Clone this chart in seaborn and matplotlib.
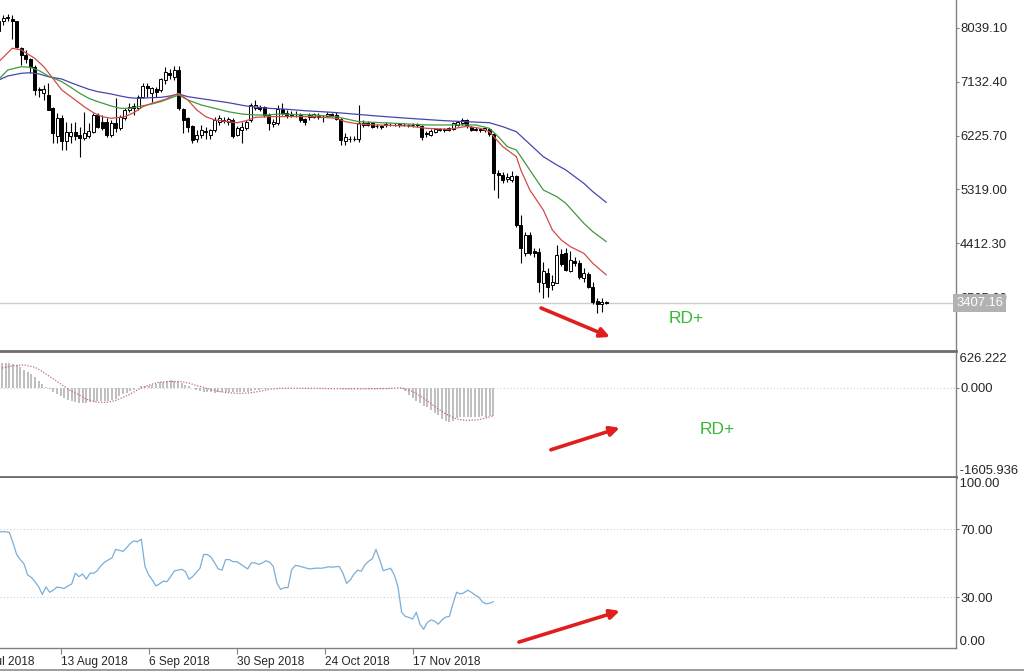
import numpy as np
import pandas as pd
import matplotlib
matplotlib.use("Agg")
import matplotlib.pyplot as plt
from matplotlib.lines import Line2D
import seaborn as sns

# ─── Data (daily bars from 27 Jul 2018) ───────────────────────────────────────
start_date = "2018-07-27"

opens = [7980, 8157, 8200, 8180, 8150, 7690, 7580, 7510, 7380, 6995,
         6940, 6905, 6680, 6210, 6515, 6125, 6210, 6290, 6235, 6180,
         6225, 6290, 6570, 6460, 6455, 6235, 6440, 6345, 6515, 6655,
         6720, 6685, 6880, 7060, 6935, 7005, 6990, 7160, 7270, 7215,
         7330, 6665, 6515, 6385, 6165, 6235, 6300, 6230, 6320, 6460,
         6470, 6460, 6490, 6235, 6320, 6360, 6490, 6690, 6700, 6700,
         6570, 6420, 6430, 6665, 6610, 6575, 6585, 6570, 6500, 6530,
         6545, 6560, 6545, 6550, 6590, 6570, 6500, 6125, 6170, 6160,
         6165, 6405, 6440, 6430, 6380, 6390, 6395, 6410, 6405, 6395,
         6410, 6400, 6395, 6415, 6390, 6250, 6240, 6290, 6325, 6335,
         6345, 6330, 6405, 6430, 6485, 6375, 6325, 6330, 6310, 6340,
         6250, 5600, 5565, 5500, 5480, 5550, 4720, 4245, 4550, 4275,
         4270, 3740, 3910, 3710, 3750, 4230, 4255, 3950, 4120, 4085,
         3830, 3895, 3685, 3445, 3395, 3420]
highs = [8200, 8253, 8270, 8260, 8160, 7720, 7660, 7525, 7410, 7050,
         7075, 7110, 6710, 6600, 6570, 6460, 6430, 6460, 6375, 6625,
         6430, 6600, 6600, 6570, 6515, 6485, 6850, 6570, 6685, 6770,
         6770, 6905, 7105, 7105, 7045, 7050, 7200, 7370, 7350, 7390,
         7390, 6685, 6545, 6405, 6320, 6405, 6375, 6340, 6545, 6570,
         6540, 6545, 6515, 6390, 6460, 6490, 6770, 6825, 6740, 6715,
         6600, 6510, 6740, 6770, 6655, 6630, 6640, 6600, 6520, 6610,
         6610, 6600, 6570, 6620, 6610, 6620, 6515, 6260, 6210, 6210,
         6740, 6490, 6470, 6450, 6420, 6410, 6450, 6440, 6430, 6440,
         6430, 6420, 6430, 6440, 6410, 6300, 6330, 6360, 6360, 6360,
         6365, 6450, 6470, 6520, 6500, 6390, 6365, 6360, 6370, 6360,
         6270, 5650, 5620, 5600, 5630, 5560, 4890, 4600, 4600, 4330,
         4330, 4100, 3990, 3880, 4385, 4320, 4340, 4280, 4190, 4130,
         3990, 3930, 3770, 3490, 3490, 3450]
lows = [7950, 8085, 8160, 7850, 7690, 7410, 7440, 7270, 6910, 6880,
        6825, 6650, 6095, 6095, 5985, 5985, 6095, 6150, 5870, 6150,
        6180, 6265, 6345, 6318, 6205, 6205, 6290, 6320, 6490, 6625,
        6570, 6655, 6850, 6880, 6795, 6880, 6960, 7090, 7170, 7160,
        6655, 6265, 6290, 6095, 6120, 6180, 6170, 6160, 6290, 6400,
        6430, 6400, 6180, 6220, 6095, 6320, 6460, 6655, 6640, 6545,
        6320, 6375, 6400, 6570, 6515, 6545, 6540, 6460, 6400, 6480,
        6520, 6510, 6460, 6530, 6530, 6480, 6066, 6066, 6120, 6130,
        6122, 6370, 6380, 6350, 6350, 6340, 6370, 6380, 6385, 6370,
        6380, 6370, 6375, 6370, 6150, 6200, 6220, 6270, 6300, 6290,
        6300, 6310, 6390, 6410, 6360, 6300, 6300, 6290, 6290, 6220,
        5310, 5170, 5430, 5440, 5440, 4690, 4080, 4200, 4220, 4190,
        3600, 3490, 3515, 3620, 3740, 4030, 3940, 3930, 4030, 3820,
        3770, 3660, 3390, 3235, 3260, 3390]
closes = [8150, 8197, 8215, 8150, 7720, 7580, 7510, 7385, 6990, 7005,
          7005, 6655, 6265, 6515, 6125, 6290, 6290, 6210, 6180, 6265,
          6300, 6570, 6375, 6345, 6235, 6440, 6345, 6545, 6655, 6710,
          6685, 6880, 7060, 7020, 7020, 6965, 7170, 7300, 7245, 7330,
          6690, 6490, 6375, 6150, 6235, 6315, 6280, 6310, 6490, 6515,
          6485, 6510, 6215, 6345, 6375, 6460, 6740, 6740, 6670, 6570,
          6430, 6460, 6665, 6600, 6575, 6585, 6580, 6490, 6460, 6575,
          6585, 6545, 6530, 6590, 6555, 6500, 6150, 6195, 6160, 6165,
          6430, 6440, 6405, 6375, 6390, 6375, 6420, 6405, 6410, 6415,
          6400, 6395, 6405, 6395, 6205, 6265, 6305, 6330, 6335, 6320,
          6320, 6430, 6455, 6485, 6385, 6320, 6330, 6320, 6345, 6255,
          5590, 5560, 5480, 5520, 5550, 4720, 4330, 4550, 4245, 4250,
          3770, 3940, 3685, 3770, 4215, 4065, 3965, 4130, 4075, 3850,
          3910, 3685, 3430, 3395, 3420, 3407.16]

# moving averages, sampled at bar indices
red_idx = [0, 3, 5, 8, 10, 12, 14, 17, 19, 21, 23, 25, 28, 30, 32, 34, 37, 39,
           40, 42, 44, 46, 48, 51, 53, 55, 57, 60, 65, 70, 75, 77, 80, 84, 91,
           95, 100, 104, 107, 109, 110, 112, 115, 116, 118, 121, 123, 125, 127,
           130, 132, 135]
red_val = [7467, 7693, 7664, 7524, 7383, 7188, 6991, 6823, 6710, 6610, 6542,
           6515, 6542, 6610, 6710, 6767, 6834, 6907, 6935, 6823, 6655, 6542,
           6487, 6458, 6441, 6475, 6532, 6542, 6545, 6542, 6515, 6458, 6419,
           6403, 6386, 6347, 6330, 6380, 6347, 6290, 6206, 6038, 5870, 5646,
           5309, 4973, 4637, 4468, 4356, 4244, 4076, 3880]
green_idx = [0, 2, 5, 7, 9, 11, 14, 16, 18, 20, 22, 25, 27, 29, 31, 34, 36, 38,
             40, 42, 45, 48, 51, 54, 57, 60, 62, 70, 75, 80, 88, 95, 102, 106,
             109, 111, 113, 115, 117, 119, 121, 124, 126, 128, 130, 132, 135]
green_val = [7171, 7328, 7383, 7373, 7316, 7227, 7131, 7036, 6935, 6851, 6795,
             6722, 6683, 6683, 6710, 6756, 6795, 6851, 6907, 6823, 6739, 6683,
             6626, 6587, 6571, 6571, 6587, 6571, 6542, 6458, 6431, 6403, 6403,
             6403, 6347, 6206, 6038, 5982, 5758, 5533, 5309, 5197, 5085, 4917,
             4749, 4608, 4440]
blue_idx = [0, 2, 5, 7, 9, 11, 14, 16, 18, 20, 22, 25, 27, 29, 31, 34, 36, 38,
            40, 42, 46, 51, 55, 60, 64, 68, 74, 77, 84, 91, 99, 104, 109, 112,
            115, 117, 119, 121, 124, 126, 128, 130, 132, 135]
blue_val = [7159, 7227, 7272, 7282, 7260, 7215, 7176, 7114, 7058, 7003, 6963,
            6924, 6890, 6862, 6851, 6862, 6867, 6890, 6924, 6879, 6834, 6778,
            6722, 6683, 6667, 6643, 6616, 6599, 6554, 6515, 6475, 6458, 6441,
            6374, 6290, 6150, 6010, 5870, 5730, 5646, 5533, 5421, 5281, 5100]

# MACD main (grey histogram), one value per bar
macd_main = [445, 445, 450, 440, 430, 414, 366, 324, 290, 240, 186, 126, 66, 20,
             -20, -70, -114, -156, -190, -220, -240, -258, -272, -276, -276,
             -262, -250, -246, -246, -246, -240, -220, -198, -156, -114, -90,
             -60, -36, 0, 24, 24, 36, 48, 60, 96, 110, 126, 144, 130, 114, 80,
             50, 24, -10, -40, -60, -75, -80, -82, -85, -84, -80, -82, -80, -78,
             -80, -76, -72, -70, -60, -40, -36, -30, -20, -12, -8, -5,
             -5, -3, -2, 0, -2, -4, -6, -5, -4, -3, -2, -3, -5, -6, -4, -5, -6,
             -25, -28, -30, -28, -25, -26, -28, -30, -27, -25, -22, -20,
             -15, -12, -10, -8, -20, -66, -126, -186, -230, -276, -320, -348,
             -408, -450, -486, -564, -606, -620, -590, -546,
             -530, -525, -520, -520, -525, -520, -515, -520, -515, -516]
# MACD signal (dotted), sampled at bar indices
signal_idx = [1, 4, 7, 10, 12, 14, 16, 18, 20, 22, 24, 26, 28, 30, 32, 34, 36,
              38, 40, 42, 44, 47, 50, 52, 54, 56, 58, 60, 62, 64, 66, 68, 70,
              72, 74, 77, 86, 96, 106, 110, 113, 116, 119, 122, 125, 128, 131,
              135]
signal_val = [354, 396, 414, 370, 294, 204, 114, 24, -66, -126, -204, -246,
              -264, -258, -228, -174, -114, -36, 24, 66, 102, 114, 110, 84, 42,
              6, -30, -66, -84, -96, -102, -96, -78, -54, -24, -8, -10, -20,
              -15, 0, -66, -186, -336, -468, -564, -588, -576, -504]

# RSI, one value per bar
rsi = [68.4, 68.4, 68.4, 68.0, 62.0, 55.0, 52.0, 49.5, 43.0, 41.5, 39.0, 36.0,
       31.5, 36.0, 32.8, 34.0, 35.8, 35.5, 35.0, 36.5, 37.6, 44.0, 42.0, 43.5,
       40.5, 44.0, 44.0, 45.5, 48.5, 50.5, 51.8, 53.0, 58.0, 57.5, 56.8, 59.0,
       61.5, 63.0, 62.5, 64.0, 48.0, 43.0, 40.0, 36.5, 37.8, 39.4, 39.0, 42.0,
       45.3, 45.8, 46.3, 45.0, 40.5, 42.0, 44.5, 46.9, 55.0, 55.0, 53.5, 50.0,
       46.5, 45.8, 52.0, 52.0, 50.8, 50.8, 49.5, 48.0, 46.5, 50.0, 50.1, 49.2,
       50.0, 51.3, 50.5, 48.0, 38.0, 34.5, 35.5, 35.5, 46.0, 48.6, 48.2, 47.6,
       47.0, 46.5, 46.8, 47.0, 46.9, 47.2, 47.8, 47.5, 47.8, 48.0, 44.0, 38.0,
       40.0, 43.5, 45.8, 45.2, 49.0, 51.0, 52.5, 58.0, 52.0, 45.5, 46.2, 46.9,
       43.0, 36.0, 21.0, 18.6, 18.0, 17.0, 21.0, 14.0, 11.0, 15.0, 16.5, 15.8,
       14.0, 16.5, 18.2, 18.5, 26.0, 32.8, 31.8, 32.5, 34.0, 32.8, 31.2, 30.0,
       27.2, 26.0, 26.3, 27.2]

price_ticks = [8039.10, 7132.40, 6225.70, 5319.00, 4412.30, 3505.60]
last_price = 3407.16
macd_range = (-1605.936, 626.222)
rsi_levels = [70, 30]
date_ticks = ["2018-07-20", "2018-08-13", "2018-09-06", "2018-09-30",
              "2018-10-24", "2018-11-17"]

# ─── Style ────────────────────────────────────────────────────────────────────
sns.set_style("white")
plt.rcParams["font.family"] = ["Liberation Sans", "DejaVu Sans"]

AXIS_GREY = "#808080"
LABEL_FS = 9.4
DATE_FS = 8.6
ARROW = dict(arrowstyle="-|>", color="#e01e1e", lw=2.6, mutation_scale=14,
             shrinkA=0, shrinkB=0)

W, H = 1024, 672
fig = plt.figure(figsize=(W / 100, H / 100), dpi=100)


def panel(top, bottom, right=956):
    return [0, 1 - bottom / H, right / W, (bottom - top) / H]


ax_p = fig.add_axes(panel(0, 351))
ax_m = fig.add_axes(panel(353, 477))
ax_r = fig.add_axes(panel(478, 648))

for ax in (ax_p, ax_m, ax_r):
    sns.despine(ax=ax, left=True, top=True, right=False, bottom=False)
    ax.yaxis.tick_right()
    ax.tick_params(axis="y", direction="out", length=2, width=0.8,
                   color=AXIS_GREY, pad=1, labelsize=LABEL_FS)
    ax.spines["right"].set_color(AXIS_GREY)
    ax.spines["right"].set_linewidth(1)
for ax in (ax_p, ax_m):
    ax.set_xticks([])
    ax.spines["bottom"].set_color("#6e6e6e")
    ax.spines["bottom"].set_linewidth(2)
ax_r.spines["bottom"].set_color(AXIS_GREY)
ax_r.spines["bottom"].set_linewidth(1)

# ─── Price panel: candles + moving averages ───────────────────────────────────
bars = pd.DataFrame({"open": opens, "high": highs, "low": lows, "close": closes})
bars["x"] = np.arange(len(bars))
up = bars["close"] >= bars["open"]

ax_p.vlines(bars["x"], bars["low"], bars["high"], color="black", lw=0.8, zorder=2)
ax_p.bar(bars["x"][up], (bars["close"] - bars["open"])[up], bottom=bars["open"][up],
         width=0.62, color="white", edgecolor="black", linewidth=0.7, zorder=3)
ax_p.bar(bars["x"][~up], (bars["open"] - bars["close"])[~up], bottom=bars["close"][~up],
         width=0.62, color="black", edgecolor="black", linewidth=0.7, zorder=3)

for idx, val, col in [(blue_idx, blue_val, "#4646b0"),
                      (green_idx, green_val, "#3f9a3f"),
                      (red_idx, red_val, "#d24b4b")]:
    sns.lineplot(x=idx, y=val, ax=ax_p, color=col, lw=0.9, zorder=4)

ax_p.axhline(last_price, color="#cccccc", lw=1, zorder=1)
ax_p.set_yticks(price_ticks)
ax_p.set_yticklabels([f"{v:.2f}" for v in price_ticks])
ax_p.set_xlim(0.27, 212.7)
ax_p.set_ylim(2601, 8505)
ax_p.text(1.0, last_price, f"{last_price:.2f}", transform=ax_p.get_yaxis_transform(),
          ha="left", va="center", color="white", fontsize=LABEL_FS, zorder=10,
          clip_on=False, bbox=dict(boxstyle="square,pad=0.2", fc="#b2b2b2", ec="none"))

ax_p.annotate("", xy=(135.8, 2837), xytext=(120.5, 3324), arrowprops=ARROW)
ax_p.text(152.7, 3155, "RD+", color="#35b835", fontsize=12.5, ha="center", va="center")

# ─── MACD panel ───────────────────────────────────────────────────────────────
xi = np.arange(len(macd_main))
ax_m.bar(xi, macd_main, width=0.55, color="#c0c0c0", linewidth=0, zorder=2)
sns.lineplot(x=signal_idx, y=signal_val, ax=ax_m, color="#c46a6a", lw=0.9,
             linestyle=(0, (1, 1.3)), zorder=3)
ax_m.axhline(0, color="#cfcfcf", lw=0.8, ls=(0, (1, 2)), zorder=1)
ax_m.set_yticks([0])
ax_m.set_yticklabels(["0.000"])
ax_m.set_xlim(0.46, 261.2)
ax_m.set_ylim(*macd_range)
ax_m.text(1.0, macd_range[1], f" {macd_range[1]:.3f}", transform=ax_m.get_yaxis_transform(),
          ha="left", va="top", fontsize=LABEL_FS, clip_on=False)
ax_m.text(1.0, macd_range[0], f" {macd_range[0]:.3f}", transform=ax_m.get_yaxis_transform(),
          ha="left", va="bottom", fontsize=LABEL_FS, clip_on=False)

ax_m.annotate("", xy=(169.5, -720), xytext=(150.7, -1116), arrowprops=ARROW)
ax_m.text(196, -756, "RD+", color="#35b835", fontsize=12.5, ha="center", va="center")

# ─── RSI panel ────────────────────────────────────────────────────────────────
sns.lineplot(x=np.arange(len(rsi)), y=rsi, ax=ax_r, color="#7aaed8", lw=0.9, zorder=3)
for lvl in rsi_levels:
    ax_r.axhline(lvl, color="#cfcfcf", lw=0.8, ls=(0, (1, 2)), zorder=1)
ax_r.set_yticks(rsi_levels)
ax_r.set_yticklabels([f"{v:.2f}" for v in rsi_levels])

t0 = pd.Timestamp(start_date)
tick_dates = pd.to_datetime(date_ticks)
tick_pos = [(d - t0).days for d in tick_dates]
tick_txt = [f"{d.day} {d:%b %Y}" for d in tick_dates]
ax_r.set_xticks(tick_pos[1:])
ax_r.set_xticklabels(tick_txt[1:], ha="left")
ax_r.tick_params(axis="x", direction="out", length=4, width=0.8, color=AXIS_GREY,
                 pad=2, labelsize=DATE_FS, bottom=True)
# first date label sits left of the view; only its tail shows, as in the source
ax_r.annotate(tick_txt[0], xy=(tick_pos[0], 0), xycoords=("data", "axes fraction"),
              xytext=(0, -6), textcoords="offset points", ha="left", va="top",
              fontsize=DATE_FS, annotation_clip=False)
# limits last: set_xticks would otherwise widen the view
ax_r.set_xlim(0.46, 261.2)
ax_r.set_ylim(0, 100)

ax_r.text(1.0, 100, " 100.00", transform=ax_r.get_yaxis_transform(),
          ha="left", va="top", fontsize=LABEL_FS, clip_on=False)
ax_r.text(1.0, 0, " 0.00", transform=ax_r.get_yaxis_transform(),
          ha="left", va="bottom", fontsize=LABEL_FS, clip_on=False)

ax_r.annotate("", xy=(169.5, 21.8), xytext=(142, 3.5), arrowprops=ARROW)

for ax in (ax_p, ax_m, ax_r):
    ax.set_xlabel("")
    ax.set_ylabel("")

fig.add_artist(Line2D([0, 1], [1 - 670 / H] * 2, color="#8c8c8c", lw=1.2,
                      transform=fig.transFigure))

fig.savefig("out.png", dpi=100)
plt.close(fig)
